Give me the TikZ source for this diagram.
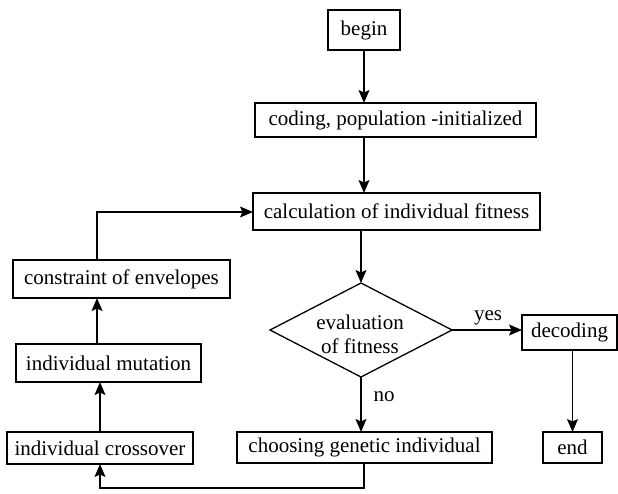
\documentclass[tikz,border=0pt]{standalone}
\usepackage{fontspec}
\setmainfont{Liberation Serif}
\newfontfamily\tnr{Liberation Serif}
\usetikzlibrary{arrows.meta,shapes.geometric}
\begin{document}
\begin{tikzpicture}[x=1pt,y=-1pt,
  every node/.style={font=\tnr\fontsize{21}{24}\selectfont},
  box/.style={draw,line width=1.3pt,inner sep=0pt,outer sep=0pt},
  conn/.style={line width=1.3pt,-{Stealth[length=13pt,width=11pt,inset=2.5pt]}},
  plain/.style={line width=1.3pt}]
\useasboundingbox (0,0) rectangle (618,493);
\node[box,minimum width=72pt,minimum height=40pt] (begin) at (364,30) {begin};
\node[box,minimum width=281pt,minimum height=34pt] (coding) at (395.5,120) {coding, population -initialized};
\node[box,minimum width=287pt,minimum height=37pt] (calc) at (396.5,211.5) {calculation of individual fitness};
\node[box,diamond,minimum width=182pt,minimum height=94pt] (dia) at (361,330) {};
\node[align=center,inner sep=0pt] (diatext) at (360,334) {evaluation\\of fitness};
\node[box,minimum width=95pt,minimum height=35pt] (decoding) at (569.5,332.5) {decoding};
\node[box,minimum width=59pt,minimum height=31pt] (end) at (572.5,447.5) {end};
\node[box,minimum width=255pt,minimum height=31pt] (choose) at (364.5,447.5) {choosing genetic individual};
\node[box,minimum width=186pt,minimum height=32pt] (cross) at (100,448) {individual crossover};
\node[box,minimum width=185pt,minimum height=38pt] (mut) at (108.5,363) {individual mutation};
\node[box,minimum width=217pt,minimum height=38pt] (cons) at (121.5,279) {constraint of envelopes};
\node[inner sep=0pt] (yes) at (488,318) {yes};
\node[inner sep=0pt] (no) at (384,397) {no};
\coordinate (cb) at (364,488);
\coordinate (cx) at (100,488);
\coordinate (cs) at (97,212);
\draw[conn] (begin.south) -- (begin.south |- coding.north);
\draw[conn] (begin.south |- coding.south) -- (begin.south |- calc.north);
\draw[conn] (dia.north |- calc.south) -- (dia.north);
\draw[conn] (dia.east) -- (dia.east -| decoding.west);
\draw[conn] (dia.south) -- (dia.south |- choose.north);
\draw[conn] (end.north |- decoding.south) -- (end.north);
\draw[conn] (cb |- choose.south) -- (cb) -- (cx) -- (cross.south -| cx);
\draw[conn] (cross.north) -- (cross.north |- mut.south);
\draw[conn] (cs |- mut.north) -- (cs |- cons.south);
\draw[conn] (cs |- cons.north) -- (cs) -- (calc.west |- cs);
\end{tikzpicture}
\end{document}
